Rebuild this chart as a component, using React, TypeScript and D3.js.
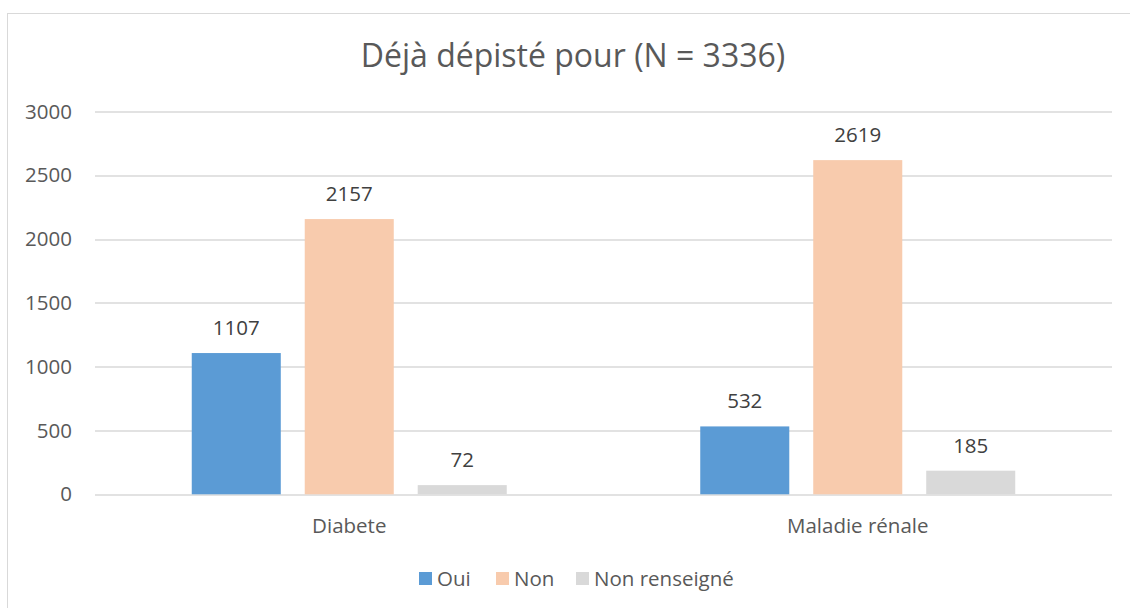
import React, { useEffect } from 'react'
import * as d3 from 'd3'

const categories = ['Diabete', 'Maladie rénale']
const seriesNames = ['Oui', 'Non', 'Non renseigné']
const oui = [1107, 532]
const non = [2157, 2619]
const nonRenseigne = [72, 185]
const yTicks = [0, 500, 1000, 1500, 2000, 2500, 3000]

const colors = ['#5B9BD5', '#F8CBAD', '#D9D9D9']
const W = 1130
const H = 608
const font = '"Open Sans", "Segoe UI", sans-serif'
const textColor = '#595959'

export default function App() {
  useEffect(() => {
    document.body.style.margin = '0'
  }, [])

  const margin = { top: 111.5, right: 18, bottom: 113.7, left: 95 }
  const innerW = W - margin.left - margin.right
  const innerH = H - margin.top - margin.bottom

  const values = [oui, non, nonRenseigne]
  const x0 = d3.scaleBand().domain(categories).range([0, innerW]).padding(0)
  const groupW = 315
  const x1 = d3.scaleBand().domain(seriesNames).range([0, groupW]).paddingInner(0.212).paddingOuter(0)
  const y = d3.scaleLinear().domain([0, 3000]).range([innerH, 0])

  return (
    <svg width={W} height={H} style={{ display: 'block', fontFamily: font }}>
      <rect x={7.5} y={13.5} width={W} height={H} fill="#fff" stroke="#D9D9D9" strokeWidth={1} />
      <text x={573} y={67} textAnchor="middle" fontSize={32} fill={textColor} fontWeight={400}>
        Déjà dépisté pour (N = 3336)
      </text>
      <g transform={`translate(${margin.left},${margin.top})`}>
        {yTicks.map(t => (
          <g key={t}>
            <line x1={0} x2={innerW} y1={Math.round(y(t)) + 0.5} y2={Math.round(y(t)) + 0.5} stroke="#D9D9D9" strokeWidth={1.3} />
            <text x={-23} y={y(t)} dy="0.35em" textAnchor="end" fontSize={20.5} fill={textColor}>{t}</text>
          </g>
        ))}
        {categories.map((c, ci) => {
          const gx = x0(c)! + x0.bandwidth() / 2 - groupW / 2
          return (
            <g key={c} transform={`translate(${gx},0)`}>
              {seriesNames.map((s, si) => {
                const v = values[si][ci]
                return (
                  <g key={s}>
                    <rect x={x1(s)} y={y(v)} width={x1.bandwidth()} height={innerH - y(v)} fill={colors[si]} />
                    <text x={x1(s)! + x1.bandwidth() / 2} y={y(v) - 18} textAnchor="middle" fontSize={20.5} fill="#404040">{v}</text>
                  </g>
                )
              })}
              <text x={groupW / 2} y={innerH + 39} textAnchor="middle" fontSize={20.5} fill={textColor}>{c}</text>
            </g>
          )
        })}
      </g>
      <g transform="translate(0,586)">
        {seriesNames.map((s, i) => {
          const lx = [419, 496, 576][i]
          return (
            <g key={s} transform={`translate(${lx},0)`}>
              <rect x={0} y={-14} width={13} height={13} fill={colors[i]} />
              <text x={18} y={0} fontSize={20.5} fill={textColor}>{s}</text>
            </g>
          )
        })}
      </g>
    </svg>
  )
}
